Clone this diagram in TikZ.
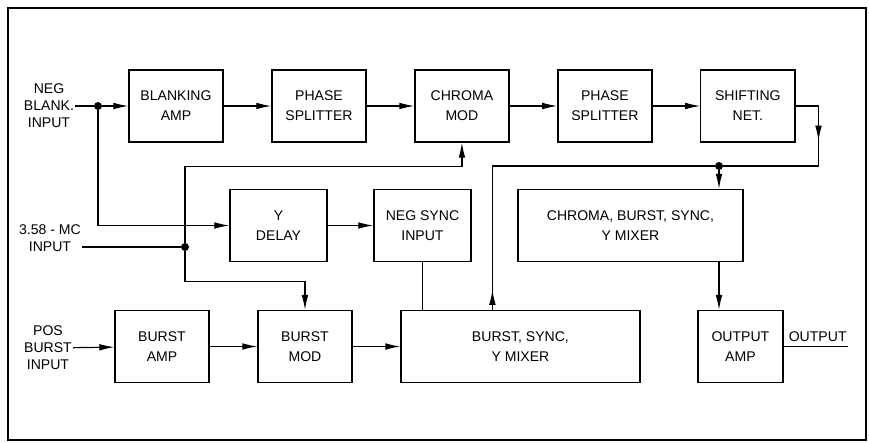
\documentclass[tikz,border=0pt]{standalone}
\usepackage{fontspec}
\setmainfont{Liberation Sans}
\usetikzlibrary{arrows.meta, positioning, calc, decorations.markings}

\begin{document}
\begin{tikzpicture}[
  x=0.03cm, y=-0.03cm,
  font=\fontsize{12}{17}\selectfont,
  node distance=1.45cm and 1.43cm,
  block/.style={rectangle, minimum width=2.82cm, minimum height=2.16cm, text centered, draw=black, line width=1.1pt, align=center, inner sep=2pt},
  inlabel/.style={align=center, inner sep=1pt, font=\fontsize{12}{14.5}\selectfont},
  junction/.style={circle, fill=black, inner sep=0pt, minimum size=0.24cm},
  wire/.style={line width=1pt},
  arrow/.style={wire, -{Latex[length=4.5mm, width=2mm]}},
  midarrow/.style={wire, postaction={decorate}, decoration={markings, mark=at position #1 with {\arrow{Latex[length=4.5mm, width=2mm]}}}}
]
\useasboundingbox (0,0) rectangle (869,442);
\draw [line width=1.2pt] (8,8) rectangle (866,440);

\node (blankamp) [block] at (176,106) {BLANKING\\AMP};
\node (splitA) [block, right=of blankamp] {PHASE\\SPLITTER};
\node (chromamod) [block, right=of splitA] {CHROMA\\MOD};
\node (splitB) [block, right=of chromamod] {PHASE\\SPLITTER};
\node (shiftnet) [block, right=of splitB] {SHIFTING\\NET.};

\node (ydelay) [block, minimum width=2.91cm] at (278.5,225.5) {Y\\DELAY};
\node (negsync) [block, minimum width=2.91cm, right=1.37cm of ydelay] {NEG SYNC\\INPUT};
\node (cmixer) [block, minimum width=6.75cm, right=1.37cm of negsync] {CHROMA, BURST, SYNC,\\Y MIXER};

\node (burstamp) [block] at (162,346.5) {BURST\\AMP};
\node (burstmod) [block, right=of burstamp] {BURST\\MOD};
\node (bmixer) [block, minimum width=7.17cm, right=of burstmod] {BURST, SYNC,\\Y MIXER};
\node (outamp) [block, minimum width=2.55cm, right=1.70cm of bmixer] {OUTPUT\\AMP};

\node (negin) [inlabel] at (49,106) {NEG\\BLANK.\\INPUT};
\node (scin) [inlabel] at (50,238) {3.58 - MC\\INPUT};
\node (posin) [inlabel] at (48,348) {POS\\BURST\\INPUT};

\node (joinA) [junction] at (98,106) {};
\node (joinB) [junction] at (185,247) {};
\node (joinC) [junction] at (719,166) {};
\coordinate (outend) at (848,346.5);
\node (outlbl) [inlabel, anchor=south east, yshift=3pt] at (outend) {OUTPUT};

\draw [wire] (negin) -- (joinA);
\draw [arrow] (joinA) -- (blankamp);
\draw [arrow] (blankamp) -- (splitA);
\draw [arrow] (splitA) -- (chromamod);
\draw [arrow] (chromamod) -- (splitB);
\draw [arrow] (splitB) -- (shiftnet);
\draw [arrow] (joinA) |- (ydelay);
\draw [arrow] (ydelay) -- (negsync);
\draw [wire] (scin.east |- joinB) -- (joinB);
\draw [arrow] (joinB) |- ($(chromamod.south)+(0,24)$) -- (chromamod.south);
\draw [arrow] (joinB) |- ($(burstmod.north)+(0,-28)$) -- (burstmod.north);
\draw [arrow] (posin) -- (burstamp);
\draw [arrow] (burstamp) -- (burstmod);
\draw [arrow] (burstmod) -- (bmixer);
\draw [wire] (negsync.south) -- (negsync.south |- bmixer.north);
\draw [midarrow=0.6cm] ($(bmixer.north)+(-28,0)$) |- (joinC);
\draw [midarrow=1.73cm] (shiftnet.east) -- ++(23,0) |- (joinC);
\draw [arrow] (joinC) -- (joinC |- cmixer.north);
\draw [arrow] (joinC |- cmixer.south) -- (joinC |- outamp.north);
\draw [wire] (outamp.east) -- (outend);
\end{tikzpicture}
\end{document}
